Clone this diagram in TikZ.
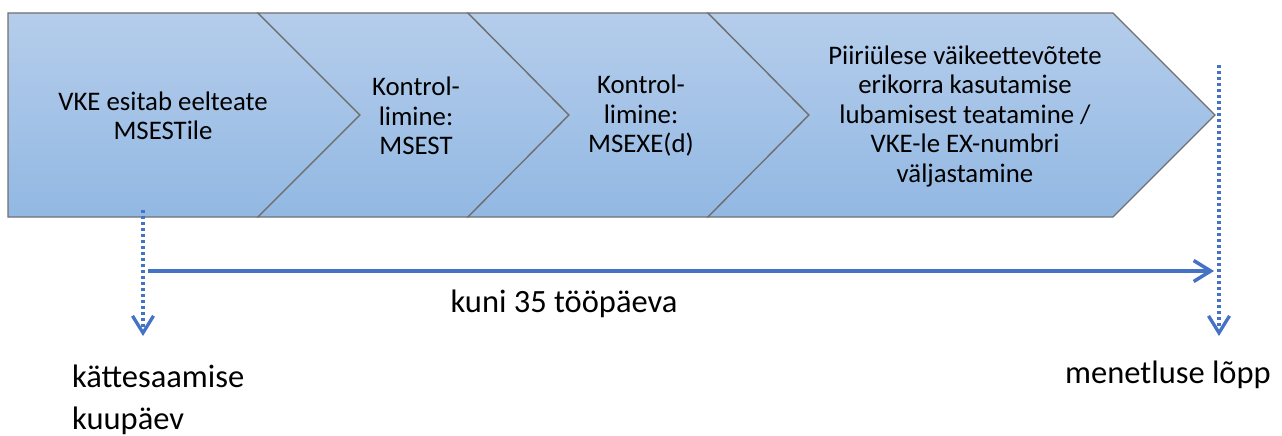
\documentclass[tikz,border=0pt]{standalone}
\usepackage{fontspec}
\setmainfont{Carlito}
\usetikzlibrary{arrows.meta}

\definecolor{chevtop}{RGB}{181,205,235}
\definecolor{chevbot}{RGB}{146,184,227}
\definecolor{chevline}{RGB}{112,112,112}
\definecolor{timeblue}{RGB}{68,114,196}

\tikzset{
  chev/.style={draw=chevline,line width=1.3pt,top color=chevtop,bottom color=chevbot},
  steptext/.style={align=center,inner sep=0pt,font=\fontsize{26.8}{29.5}\selectfont},
  marktext/.style={inner sep=0pt,font=\fontsize{32.5}{42}\selectfont},
  timeline/.style={draw=timeblue,line width=3.5pt,-{Straight Barb[length=17pt,width=21pt]}},
  dotline/.style={draw=timeblue,line width=3.3pt,dash pattern=on 3pt off 3pt,-{Straight Barb[length=17pt,width=21pt]}}
}

\begin{document}
\begin{tikzpicture}[x=1pt,y=-1pt]
\useasboundingbox (0,0) rectangle (1282,436);
% the four steps
\draw [chev] (8,13) -- (258,13) -- (360,115) -- (258,217) -- (8,217) -- cycle;
\draw [chev] (258,13) -- (468,13) -- (569,115) -- (468,217) -- (258,217) -- (360,115) -- cycle;
\draw [chev] (468,13) -- (708,13) -- (809,115) -- (708,217) -- (468,217) -- (569,115) -- cycle;
\draw [chev] (708,13) -- (1113,13) -- (1215,115) -- (1113,217) -- (708,217) -- (809,115) -- cycle;

\node [steptext] (esitab) at (163,116) {VKE esitab eelteate\\MSESTile};
\node [steptext] (msest) at (416,116) {Kontrol-\\limine:\\MSEST};
\node [steptext] (msexe) at (641,116) {Kontrol-\\limine:\\MSEXE(d)};
\node [steptext] (teatamine) at (965,116) {Piiriülese väikeettevõtete\\erikorra kasutamise\\lubamisest teatamine /\\VKE-le EX-numbri\\väljastamine};

% time line
\coordinate (algus) at (143,210);
\coordinate (algusots) at (143,336);
\coordinate (lopp) at (1219,65);
\coordinate (lopuots) at (1219,336);
\coordinate (kestusalgus) at (148,271);
\coordinate (kestuslopp) at (1214,271);

\draw [dotline] (algus) -- (algusots);
\draw [dotline] (lopp) -- (lopuots);
\draw [timeline] (kestusalgus) -- (kestuslopp);

\node [marktext,anchor=base] (kestus) at (564,312) {kuni 35 tööpäeva};
\node [marktext,anchor=base west,align=left] (saamine) at (72,429) {kättesaamise\\kuupäev};
\node [marktext,anchor=base] (lopetus) at (1168,383) {menetluse lõpp};
\end{tikzpicture}
\end{document}
